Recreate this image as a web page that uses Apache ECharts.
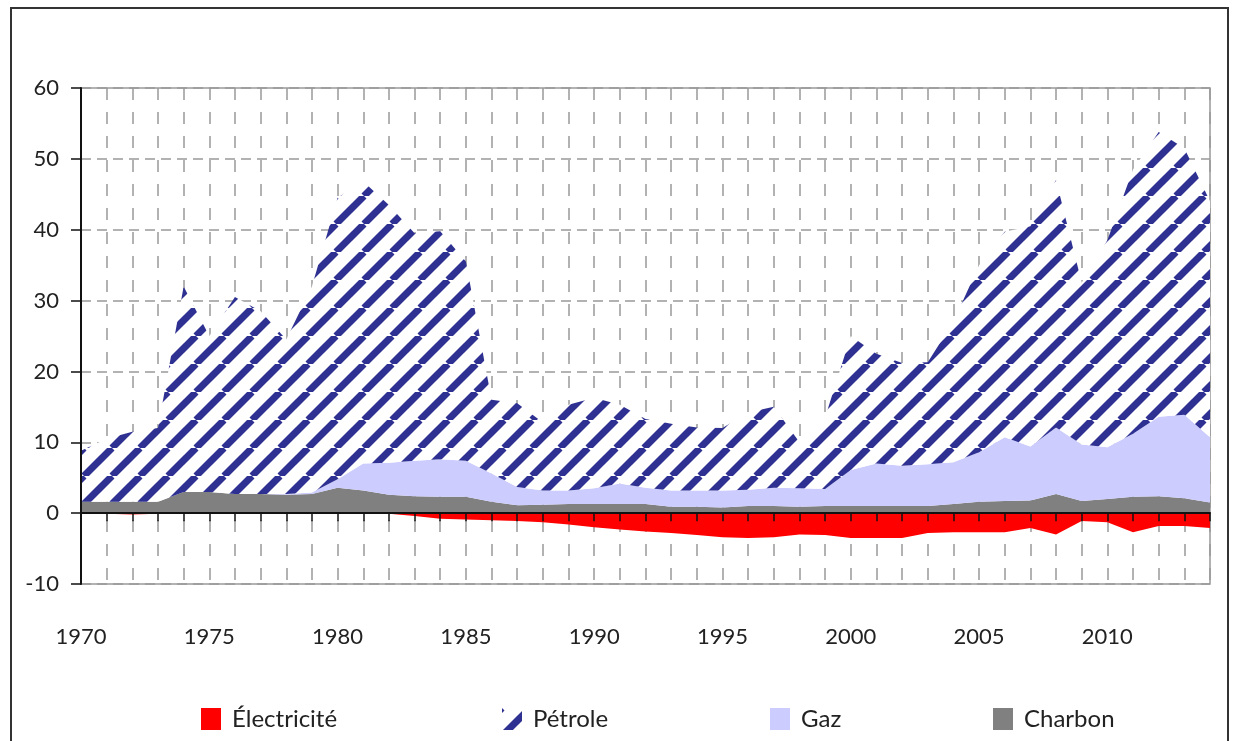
<!DOCTYPE html>
<html>
<head>
<meta charset="utf-8">
<script src="https://cdn.jsdelivr.net/npm/echarts@6.0.0/dist/echarts.min.js"></script>
<style>
  html, body { margin: 0; padding: 0; background: #fff; }
  #chart { width: 1237px; height: 741px; }
</style>
</head>
<body>
<div id="chart"></div>
<script>
const years = ['1970','1971','1972','1973','1974','1975','1976','1977','1978','1979',
  '1980','1981','1982','1983','1984','1985','1986','1987','1988','1989',
  '1990','1991','1992','1993','1994','1995','1996','1997','1998','1999',
  '2000','2001','2002','2003','2004','2005','2006','2007','2008','2009',
  '2010','2011','2012','2013','2014'];

const charbon = [1.6, 1.6, 1.6, 1.6, 3.0, 3.0, 2.7, 2.7, 2.6, 2.7,
  3.6, 3.2, 2.6, 2.4, 2.3, 2.3, 1.6, 1.1, 1.2, 1.3,
  1.3, 1.3, 1.3, 0.9, 0.9, 0.8, 1.0, 1.0, 0.9, 1.0,
  1.0, 1.0, 1.0, 1.0, 1.3, 1.6, 1.7, 1.8, 2.7, 1.7,
  2.0, 2.3, 2.4, 2.1, 1.5];

const gaz = [0, 0, 0, 0, 0, 0, 0, 0, 0.1, 0.2,
  1.2, 3.8, 4.5, 5.0, 5.3, 5.1, 4.0, 2.6, 2.0, 1.9,
  2.2, 2.9, 2.3, 2.3, 2.3, 2.4, 2.3, 2.6, 2.6, 2.4,
  5.1, 6.0, 5.7, 5.9, 5.9, 7.0, 9.0, 7.6, 9.4, 8.0,
  7.3, 8.9, 11.2, 11.8, 9.2];

const petrole = [7.2, 8.9, 9.9, 10.4, 29.0, 22.0, 27.8, 25.8, 21.8, 29.1,
  39.7, 39.8, 36.4, 32.1, 32.2, 28.1, 10.4, 11.8, 9.6, 12.1,
  12.8, 11.1, 9.7, 9.4, 8.9, 8.8, 10.9, 11.4, 6.5, 10.1,
  18.9, 15.5, 14.5, 14.4, 19.8, 26.4, 29.0, 31.1, 34.9, 22.8,
  29.2, 37.3, 40.2, 37.6, 33.3];

const electricite = [0, -0.1, -0.2, -0.1, 0, 0, 0, 0, 0, 0,
  0, 0, -0.1, -0.4, -0.8, -0.9, -1.0, -1.1, -1.3, -1.6,
  -2.0, -2.3, -2.6, -2.8, -3.1, -3.4, -3.5, -3.4, -3.0, -3.1,
  -3.5, -3.5, -3.5, -2.8, -2.7, -2.7, -2.7, -2.1, -3.0, -1.1,
  -1.3, -2.7, -1.8, -1.8, -2.1];

const legendNames = ['Électricité', 'Pétrole', 'Gaz', 'Charbon'];
const legendLeft = [196, 497, 765, 988];

// hatch pattern for the oil area
function stripes() {
  const s = 28;
  const c = document.createElement('canvas');
  c.width = s; c.height = s;
  const g = c.getContext('2d');
  g.fillStyle = '#fff';
  g.fillRect(0, 0, s, s);
  g.strokeStyle = '#2e3192';
  g.lineWidth = 7;
  for (let k = -1; k <= 1; k++) {
    g.beginPath();
    g.moveTo(k * s, s);
    g.lineTo(k * s + s, 0);
    g.stroke();
  }
  return c;
}
const hatch = { image: stripes(), repeat: 'repeat' };

const font = 'Lato';
const txt = { fontFamily: font, fontSize: 22, color: '#222' };

function area(name, data, color, stack) {
  return {
    name: name,
    type: 'line',
    stack: stack,
    data: data,
    symbol: 'none',
    color: color,
    lineStyle: { width: 0 },
    areaStyle: { color: color, opacity: 1 },
    emphasis: { disabled: true }
  };
}

const chart = echarts.init(document.getElementById('chart'), null, { renderer: 'canvas' });
chart.setOption({
  animation: false,
  backgroundColor: '#fff',
  textStyle: { fontFamily: font },
  graphic: [{
    type: 'rect',
    shape: { x: 11, y: 8, width: 1217, height: 760 },
    style: { fill: 'none', stroke: '#333', lineWidth: 2 },
    z: -1
  }],
  grid: {
    left: 81, right: 27, top: 88, bottom: 157,
    show: true, borderColor: '#999', borderWidth: 1.5, backgroundColor: 'transparent'
  },
  legend: legendNames.map((n, i) => ({
    data: [n],
    left: legendLeft[i], top: 702,
    itemWidth: 20, itemHeight: 22,
    icon: 'rect',
    textStyle: { fontFamily: font, fontSize: 24, color: '#222', padding: [0, 0, 0, 6] }
  })),
  xAxis: [{
    type: 'category',
    data: years,
    boundaryGap: false,
    position: 'bottom',
    axisLine: { show: false, onZero: false },
    axisTick: { show: false },
    axisLabel: Object.assign({ interval: 4, margin: 42 }, txt),
    splitLine: { show: true, interval: 0, lineStyle: { color: '#999', width: 1.5, type: [12, 12] } }
  }, {
    type: 'category',
    data: years,
    boundaryGap: false,
    position: 'top',
    z: 10,
    axisLine: { show: true, onZero: true, lineStyle: { color: '#111', width: 2 } },
    axisTick: { show: true, inside: true, length: 8, interval: 0, lineStyle: { color: '#111', width: 1.5 } },
    axisLabel: { show: false },
    splitLine: { show: false }
  }],
  yAxis: [{
    type: 'value',
    min: -10, max: 60, interval: 10,
    position: 'left',
    z: 10,
    axisLine: { show: true, lineStyle: { color: '#111', width: 2 } },
    axisTick: { show: true, length: 10, lineStyle: { color: '#111', width: 1.5 } },
    axisLabel: Object.assign({ margin: 22 }, txt),
    splitLine: { show: false }
  }, {
    type: 'value',
    min: -10, max: 60, interval: 10,
    position: 'left',
    axisLine: { show: false },
    axisTick: { show: false },
    axisLabel: { show: false },
    splitLine: { show: true, lineStyle: { color: '#999', width: 1.5, type: [10, 6] } }
  }],
  series: [
    area('Charbon', charbon, '#808080', 'total'),
    area('Gaz', gaz, '#ccccff', 'total'),
    area('Pétrole', petrole, hatch, 'total'),
    area('Électricité', electricite, '#ff0000', null)
  ]
});
</script>
</body>
</html>
